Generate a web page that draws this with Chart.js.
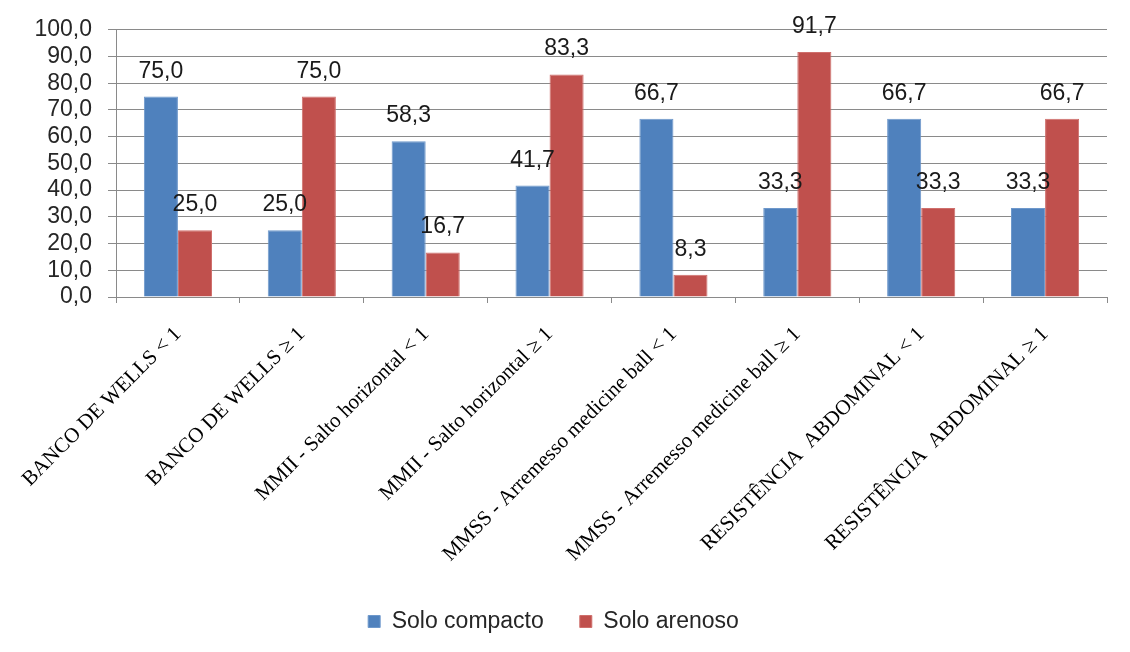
<!DOCTYPE html>
<html>
<head>
<meta charset="utf-8">
<script src="https://cdn.jsdelivr.net/npm/chart.js@4"></script>
<style>
  html, body { margin: 0; padding: 0; background: #ffffff; }
  #wrap { width: 1130px; height: 652px; }
</style>
</head>
<body>
<div id="wrap"><canvas id="chart" width="1130" height="652"></canvas></div>
<script>
// Test categories (x axis)
const categories = [
  "BANCO DE WELLS < 1",
  "BANCO DE WELLS \u2265 1",
  "MMII - Salto horizontal < 1",
  "MMII - Salto horizontal \u2265 1",
  "MMSS - Arremesso medicine ball < 1",
  "MMSS - Arremesso medicine ball \u2265 1",
  "RESIST\u00CANCIA  ABDOMINAL < 1",
  "RESIST\u00CANCIA  ABDOMINAL \u2265 1"
];

// Percentages per soil type
const soloCompacto = [75.0, 25.0, 58.3, 41.7, 66.7, 33.3, 66.7, 33.3];
const soloArenoso  = [25.0, 75.0, 16.7, 83.3, 8.3, 91.7, 33.3, 66.7];

// Y axis range
const yMin = 0;
const yMax = 100;
const yStep = 10;

const fmt = v => v.toFixed(1).replace('.', ',');

const numFont = { family: "'Liberation Sans', Arial, sans-serif", size: 23 };

// Value labels above every bar
const valueLabels = {
  id: 'valueLabels',
  afterDatasetsDraw(chart) {
    const ctx = chart.ctx;
    ctx.save();
    ctx.font = `${numFont.size}px ${numFont.family}`;
    ctx.fillStyle = '#1a1a1a';
    ctx.textAlign = 'center';
    ctx.textBaseline = 'alphabetic';
    chart.data.datasets.forEach((ds, di) => {
      const meta = chart.getDatasetMeta(di);
      meta.data.forEach((bar, i) => {
        ctx.fillText(fmt(ds.data[i]), bar.x, bar.y - 19);
      });
    });
    ctx.restore();
  }
};

new Chart(document.getElementById('chart'), {
  type: 'bar',
  data: {
    labels: categories,
    datasets: [
      {
        label: 'Solo compacto',
        data: soloCompacto,
        backgroundColor: '#4F81BD',
        borderColor: '#6E98CB',
        borderWidth: 1,
        categoryPercentage: 0.55,
        barPercentage: 1.0
      },
      {
        label: 'Solo arenoso',
        data: soloArenoso,
        backgroundColor: '#C0504D',
        borderColor: '#CF6F6C',
        borderWidth: 1,
        categoryPercentage: 0.55,
        barPercentage: 1.0
      }
    ]
  },
  options: {
    responsive: false,
    animation: false,
    devicePixelRatio: 1,
    layout: { padding: { left: 0, right: 23, top: 28, bottom: 9 } },
    plugins: {
      tooltip: { enabled: false },
      legend: {
        position: 'bottom',
        labels: {
          boxWidth: 12,
          boxHeight: 12,
          padding: 36,
          color: '#262626',
          font: { family: "'Liberation Sans', Arial, sans-serif", size: 23 }
        }
      }
    },
    scales: {
      x: {
        offset: true,
        border: { display: true, color: '#8a8a8a', width: 1 },
        grid: {
          offset: true,
          drawOnChartArea: false,
          drawTicks: true,
          tickLength: 6,
          color: '#8a8a8a'
        },
        ticks: {
          autoSkip: false,
          minRotation: 45,
          maxRotation: 45,
          padding: 19,
          color: '#000000',
          font: { family: "'Liberation Serif', 'Times New Roman', serif", size: 21 }
        },
        afterFit(scale) {
          scale.height = 277;
          scale.paddingLeft = 0;
          scale.paddingRight = 0;
        }
      },
      y: {
        min: yMin,
        max: yMax,
        border: { display: true, color: '#8a8a8a', width: 1 },
        grid: { color: '#8a8a8a', lineWidth: 1, tickLength: 8 },
        ticks: {
          stepSize: yStep,
          autoSkip: false,
          padding: 16,
          color: '#262626',
          font: numFont,
          callback: v => fmt(v)
        },
        afterFit(scale) { scale.width = 116; }
      }
    }
  },
  plugins: [valueLabels]
});
</script>
</body>
</html>
